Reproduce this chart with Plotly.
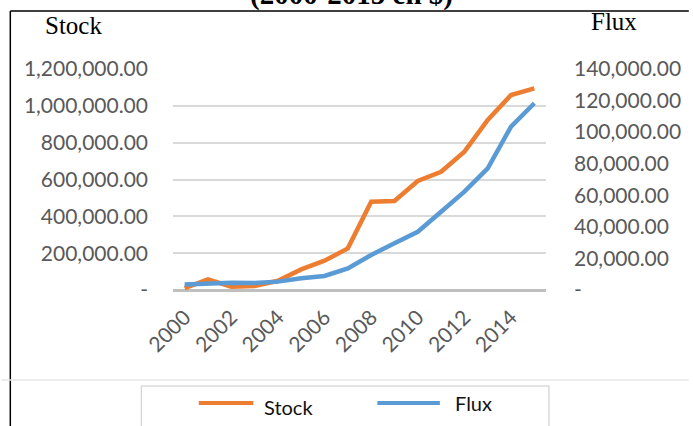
import plotly.graph_objects as go

# Values
years = list(range(2000, 2016))
stock = [10000, 58000, 18000, 22000, 50000, 112000, 159000, 226000,
         479000, 483000, 592000, 642000, 751000, 923000, 1059000, 1095000]
flux = [3500, 4300, 4600, 4400, 5300, 7400, 8900, 13700,
        22200, 29600, 36900, 49600, 62300, 77100, 103500, 118300]

year_ticks = [2000, 2002, 2004, 2006, 2008, 2010, 2012, 2014]
stock_ticks = [0, 200000, 400000, 600000, 800000, 1000000, 1200000]
stock_labels = ["-", "200,000.00", "400,000.00", "600,000.00",
                "800,000.00", "1,000,000.00", "1,200,000.00"]
flux_ticks = [0, 20000, 40000, 60000, 80000, 100000, 120000, 140000]
flux_labels = ["-", "20,000.00", "40,000.00", "60,000.00", "80,000.00",
               "100,000.00", "120,000.00", "140,000.00"]

ORANGE = "#ED7D31"
BLUE = "#5B9BD5"
TICK = "#595959"
W, H = 693, 426
L, R, T, B = 173, 144, 69, 136
PW, PH = W - L - R, H - T - B


def px(x):
    return (x - L) / PW


def py(y):
    return (H - B - y) / PH


fig = go.Figure()
fig.add_trace(go.Scatter(x=years, y=stock, mode="lines", name="Stock",
                         line={"color": ORANGE, "width": 4.5}))
fig.add_trace(go.Scatter(x=years, y=flux, mode="lines", name="Flux", yaxis="y2",
                         line={"color": BLUE, "width": 4.5}))

tick_font = {"family": "Lato", "size": 21, "color": TICK}
fig.update_layout(
    width=W, height=H, autosize=False,
    margin={"l": L, "r": R, "t": T, "b": B, "pad": 0},
    paper_bgcolor="white", plot_bgcolor="white",
    showlegend=False,
    xaxis={"range": [1999.5, 2015.5], "tickvals": year_ticks,
           "ticktext": [str(y) for y in year_ticks], "tickangle": -45,
           "tickfont": tick_font, "showgrid": False, "zeroline": False,
           "showline": False, "ticks": "", "fixedrange": True,
           "ticklabelstandoff": 10},
    yaxis={"range": [0, 1200000], "tickvals": stock_ticks, "ticktext": stock_labels,
           "tickfont": tick_font, "showgrid": True, "gridcolor": "#D9D9D9",
           "gridwidth": 1.5, "zeroline": True, "zerolinecolor": "#BFBFBF",
           "zerolinewidth": 3, "showline": False, "ticks": "",
           "ticklabelstandoff": 24},
    yaxis2={"range": [0, 140000], "tickvals": flux_ticks, "ticktext": flux_labels,
            "overlaying": "y", "side": "right", "tickfont": tick_font,
            "showgrid": False, "zeroline": False, "showline": False, "ticks": "",
            "ticklabelstandoff": 27},
)

shapes = [
    # outer frame (top and left edges of the embedded chart)
    {"type": "line", "xref": "paper", "yref": "paper", "x0": px(9), "x1": px(W),
     "y0": py(11), "y1": py(11), "line": {"color": "black", "width": 1.5}},
    {"type": "line", "xref": "paper", "yref": "paper", "x0": px(9), "x1": px(9),
     "y0": py(11), "y1": py(H), "line": {"color": "black", "width": 1.5}},
    # thin separator above the legend
    {"type": "line", "xref": "paper", "yref": "paper", "x0": px(0), "x1": px(W),
     "y0": py(380), "y1": py(380), "line": {"color": "#E6E6E6", "width": 1.5}},
    # legend box
    {"type": "rect", "xref": "paper", "yref": "paper", "x0": px(141), "x1": px(552),
     "y0": py(386), "y1": py(H + 5), "line": {"color": "#C8C8C8", "width": 1}},
    {"type": "line", "xref": "paper", "yref": "paper", "x0": px(199), "x1": px(254),
     "y0": py(403), "y1": py(403), "line": {"color": ORANGE, "width": 4}},
    {"type": "line", "xref": "paper", "yref": "paper", "x0": px(379), "x1": px(442),
     "y0": py(403), "y1": py(403), "line": {"color": BLUE, "width": 4}},
]
fig.update_layout(shapes=shapes)

serif = "Liberation Serif"
annotations = [
    {"text": "<b>(2000-2015 en $)</b>", "x": px(353), "y": py(-6),
     "font": {"family": serif, "size": 29, "color": "black"}},
    {"text": "Stock", "x": px(73), "y": py(25),
     "font": {"family": serif, "size": 25, "color": "black"}},
    {"text": "Flux", "x": px(618), "y": py(21),
     "font": {"family": serif, "size": 25, "color": "black"}},
    {"text": "Stock", "x": px(263), "y": py(407), "xanchor": "left",
     "font": {"family": "Lato", "size": 20, "color": "#111111"}},
    {"text": "Flux", "x": px(455), "y": py(403), "xanchor": "left",
     "font": {"family": "Lato", "size": 20, "color": "#111111"}},
]
for a in annotations:
    a.setdefault("xanchor", "center")
    fig.add_annotation(xref="paper", yref="paper", yanchor="middle",
                       showarrow=False, **a)

# the page's default 8px body margin would shift the whole chart
fig.write_html("out.html", config={"displayModeBar": False},
               post_script="document.body.style.margin='0';"
                           "document.body.style.overflow='hidden';")
